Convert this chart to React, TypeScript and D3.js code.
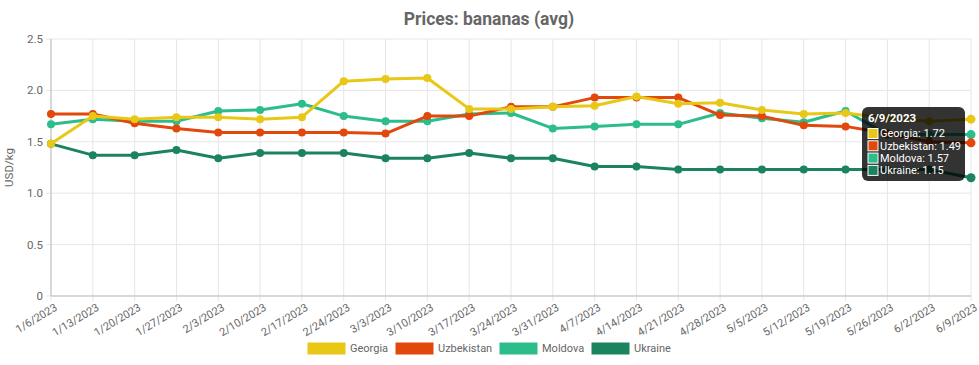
import React from 'react';
import * as d3 from 'd3';

const dates = [
  '1/6/2023', '1/13/2023', '1/20/2023', '1/27/2023', '2/3/2023', '2/10/2023',
  '2/17/2023', '2/24/2023', '3/3/2023', '3/10/2023', '3/17/2023', '3/24/2023',
  '3/31/2023', '4/7/2023', '4/14/2023', '4/21/2023', '4/28/2023', '5/5/2023',
  '5/12/2023', '5/19/2023', '5/26/2023', '6/2/2023', '6/9/2023',
];

const georgia = [1.48, 1.75, 1.72, 1.74, 1.74, 1.72, 1.74, 2.09, 2.11, 2.12, 1.82, 1.82, 1.84, 1.85, 1.94, 1.87, 1.88, 1.81, 1.77, 1.78, 1.73, 1.70, 1.72];
const uzbekistan = [1.77, 1.77, 1.68, 1.63, 1.59, 1.59, 1.59, 1.59, 1.58, 1.75, 1.75, 1.84, 1.84, 1.93, 1.93, 1.93, 1.76, 1.75, 1.66, 1.65, 1.58, 1.50, 1.49];
const moldova = [1.67, 1.72, 1.70, 1.70, 1.80, 1.81, 1.87, 1.75, 1.70, 1.70, 1.77, 1.78, 1.63, 1.65, 1.67, 1.67, 1.78, 1.73, 1.69, 1.80, 1.57, 1.57, 1.57];
const ukraine = [1.48, 1.37, 1.37, 1.42, 1.34, 1.39, 1.39, 1.39, 1.34, 1.34, 1.39, 1.34, 1.34, 1.26, 1.26, 1.23, 1.23, 1.23, 1.23, 1.23, 1.23, 1.23, 1.15];

const seriesNames = ['Georgia', 'Uzbekistan', 'Moldova', 'Ukraine'];
const seriesValues = [georgia, uzbekistan, moldova, ukraine];
const seriesColors = ['#e9c716', '#e2470b', '#2cbd8b', '#1b845e'];

const yTicks = [0, 0.5, 1.0, 1.5, 2.0, 2.5];

const W = 979;
const H = 365;
const margin = { top: 39, right: 8, bottom: 69, left: 51 };
const font = 'Roboto, "Noto Sans", sans-serif';
const textColor = '#666';
const gridColor = '#e6e6e6';

const App: React.FC = () => {
  const x = d3.scalePoint<string>().domain(dates).range([margin.left, W - margin.right]);
  const y = d3.scaleLinear().domain([0, 2.5]).range([H - margin.bottom, margin.top]);
  const line = d3
    .line<number>()
    .x((_, i) => x(dates[i])!)
    .y((d) => y(d));

  const lastIdx = dates.length - 1;
  const tipX = 862;
  const tipY = 107;
  const tipW = 103;
  const tipH = 74;

  // legend layout
  const legendItems = [
    { x: 307, tx: 350 },
    { x: 395, tx: 438 },
    { x: 499, tx: 542 },
    { x: 591, tx: 634 },
  ];

  return (
    <svg width={W} height={H} style={{ display: 'block', fontFamily: font }}>
      <style>{`body{margin:0}`}</style>
      <rect width={W} height={H} fill="#fff" />

      {/* title */}
      <text x={489} y={25} textAnchor="middle" fontSize={17.5} fontWeight="bold" fill={textColor}>
        Prices: bananas (avg)
      </text>

      {/* vertical grid */}
      {dates.map((d) => (
        <line key={d} x1={x(d)} x2={x(d)} y1={margin.top} y2={H - margin.bottom + 5} stroke={gridColor} />
      ))}
      {/* horizontal grid + y labels */}
      {yTicks.map((t) => (
        <g key={t}>
          <line x1={margin.left - 5} x2={W - margin.right} y1={y(t)} y2={y(t)} stroke={gridColor} />
          <text x={margin.left - 8} y={y(t)} dy="0.35em" textAnchor="end" fontSize={11.5} fill={textColor}>
            {t === 0 ? '0' : t.toFixed(1)}
          </text>
        </g>
      ))}
      {/* axis lines */}
      <line x1={margin.left} x2={margin.left} y1={margin.top} y2={H - margin.bottom} stroke="#bdbdbd" />
      <line x1={margin.left} x2={W - margin.right} y1={H - margin.bottom} y2={H - margin.bottom} stroke="#bdbdbd" />

      {/* x labels */}
      {dates.map((d) => (
        <text
          key={d}
          transform={`translate(${x(d)! + 3},${H - margin.bottom + 7}) rotate(-31)`}
          textAnchor="end"
          dy="0.7em"
          fontSize={11}
          fill={textColor}
        >
          {d}
        </text>
      ))}

      {/* y axis title */}
      <text
        transform={`translate(13,${(margin.top + H - margin.bottom) / 2}) rotate(-90)`}
        textAnchor="middle"
        fontSize={11.5}
        fill={textColor}
      >
        USD/kg
      </text>

      {/* series (drawn last-first so Georgia is on top) */}
      {seriesValues
        .map((vals, si) => ({ vals, si }))
        .reverse()
        .map(({ vals, si }) => (
          <g key={seriesNames[si]}>
            <path d={line(vals) ?? ''} fill="none" stroke={seriesColors[si]} strokeWidth={3} strokeLinejoin="round" />
            {vals.map((v, i) => (
              <circle key={i} cx={x(dates[i])} cy={y(v)} r={i === lastIdx ? 4.5 : 4} fill={seriesColors[si]} />
            ))}
          </g>
        ))}

      {/* tooltip */}
      <g>
        <rect x={tipX} y={tipY} width={tipW} height={tipH} rx={6} fill="rgba(0,0,0,0.8)" />
        <text x={tipX + 6} y={tipY + 15} fontSize={11.5} fontWeight="bold" fill="#fff">
          {dates[lastIdx]}
        </text>
        {seriesNames.map((n, si) => {
          const cy = tipY + 26.5 + si * 12.3;
          return (
            <g key={n}>
              <rect x={tipX + 6} y={cy - 5} width={10} height={10} fill={seriesColors[si]} stroke="#fff" strokeWidth={1} />
              <text x={tipX + 18} y={cy} dy="0.36em" fontSize={11} fill="#fff">
                {`${n}: ${seriesValues[si][lastIdx].toFixed(2)}`}
              </text>
            </g>
          );
        })}
      </g>

      {/* legend */}
      {seriesNames.map((n, si) => (
        <g key={n}>
          <rect x={legendItems[si].x} y={342} width={39} height={13} fill={seriesColors[si]} stroke="#fff" />
          <text x={legendItems[si].tx} y={348.5} dy="0.35em" fontSize={11} fill={textColor}>
            {n}
          </text>
        </g>
      ))}
    </svg>
  );
};

export default App;
